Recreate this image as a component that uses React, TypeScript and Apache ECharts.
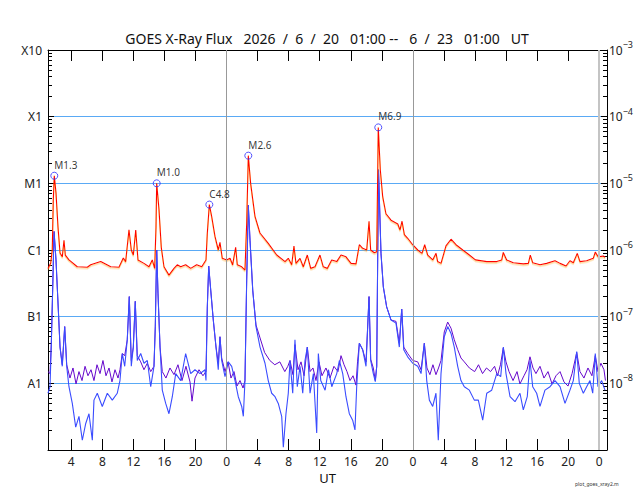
import React, { useEffect, useRef } from 'react';
import * as echarts from 'echarts';

const FONT = '"Noto Sans", "DejaVu Sans", sans-serif';

// time axis: hours since 2026-06-20 00:00 UT; flux in W/m^2
const longFlux: [number, number][] = [
    [1.0, 5.3e-7], [1.35, 6.4e-7], [1.55, 1.0e-6], [1.68, 5.6e-6], [1.81, 1.3e-5], [2.03, 7.2e-6],
    [2.29, 2.2e-6], [2.55, 9.0e-7], [2.84, 7.9e-7], [3.06, 1.4e-6], [3.23, 8.4e-7], [3.7, 7.1e-7],
    [4.77, 5.6e-7], [6.06, 5.5e-7], [6.5, 6.0e-7], [7.79, 6.7e-7], [9.08, 5.6e-7], [10.14, 5.5e-7],
    [10.7, 7.6e-7], [11.0, 6.7e-7], [11.43, 2.0e-6], [11.73, 1.0e-6], [11.99, 8.4e-7], [12.3, 2.0e-6],
    [12.59, 7.1e-7], [13.36, 6.3e-7], [14.01, 5.6e-7], [14.43, 7.1e-7], [14.74, 5.3e-7], [14.91, 2.2e-6],
    [15.0, 1.0e-5], [15.3, 4.0e-6], [15.59, 1.1e-6], [15.94, 5.6e-7], [16.58, 4.2e-7], [17.23, 5.3e-7],
    [17.65, 6.0e-7], [18.09, 5.6e-7], [18.73, 6.0e-7], [19.38, 5.3e-7], [20.15, 6.0e-7], [20.8, 5.6e-7],
    [21.35, 7.1e-7], [21.52, 1.8e-6], [21.78, 4.8e-6], [22.08, 3.2e-6], [22.51, 1.6e-6], [22.93, 1.0e-6],
    [23.15, 1.3e-6], [23.45, 7.5e-7], [24.01, 7.1e-7], [24.44, 7.5e-7], [24.78, 6.0e-7], [25.17, 1.1e-6],
    [25.38, 6.0e-7], [25.95, 5.6e-7], [26.37, 5.0e-7], [26.59, 2.5e-6], [26.8, 2.6e-5], [27.1, 1.0e-5],
    [27.66, 3.2e-6], [28.3, 1.8e-6], [29.37, 1.26e-6], [30.46, 8.4e-7], [31.53, 6.7e-7], [31.95, 7.5e-7],
    [32.39, 6.0e-7], [32.68, 1.15e-6], [32.94, 6.3e-7], [33.46, 7.5e-7], [33.88, 5.6e-7], [34.4, 8.4e-7],
    [34.84, 5.3e-7], [35.39, 5.6e-7], [36.03, 8.4e-7], [36.46, 5.6e-7], [36.97, 5.3e-7], [37.54, 7.1e-7],
    [38.19, 6.7e-7], [38.74, 8.4e-7], [39.38, 7.9e-7], [40.03, 6.3e-7], [40.67, 6.2e-7], [41.1, 1.2e-6],
    [41.53, 1.06e-6], [42.05, 1.0e-6], [42.35, 2.7e-6], [42.56, 1.0e-6], [43.03, 9.1e-7], [43.34, 9.4e-7],
    [43.54, 6.9e-5], [43.8, 1.6e-5], [44.11, 6.3e-6], [44.53, 3.5e-6], [45.18, 2.8e-6], [46.05, 2.45e-6],
    [46.34, 2.0e-6], [46.6, 2.7e-6], [46.9, 1.7e-6], [47.33, 1.5e-6], [47.97, 1.2e-6], [48.62, 1.0e-6],
    [49.17, 8.9e-7], [49.52, 1.2e-6], [49.91, 8.4e-7], [50.55, 7.1e-7], [50.98, 8.9e-7], [51.19, 6.7e-7],
    [51.62, 6.3e-7], [52.26, 1.15e-6], [52.91, 1.45e-6], [53.55, 1.2e-6], [54.42, 1.0e-6], [55.27, 8.4e-7],
    [56.05, 7.1e-7], [57.51, 6.7e-7], [58.8, 6.7e-7], [59.44, 7.1e-7], [59.64, 9.2e-7], [60.08, 7.1e-7],
    [60.93, 6.45e-7], [62.22, 6.2e-7], [62.87, 6.3e-7], [63.12, 8.4e-7], [63.43, 6.45e-7], [64.37, 6.0e-7],
    [65.23, 6.3e-7], [66.3, 6.9e-7], [66.95, 6.3e-7], [67.72, 5.75e-7], [68.23, 6.9e-7], [68.66, 6.45e-7],
    [69.17, 8.9e-7], [69.52, 6.7e-7], [70.38, 6.9e-7], [71.23, 7.5e-7], [71.49, 9.3e-7], [71.86, 7.9e-7],
    [72.51, 8.1e-7], [72.76, 7.8e-7],
];

const shortFlux: [number, number][] = [
    [1.0, 7.1e-9], [1.26, 8.9e-9], [1.43, 4.0e-8], [1.61, 2.8e-7], [1.78, 1.9e-6], [2.03, 7.1e-7],
    [2.29, 1.6e-7], [2.55, 3.5e-8], [2.84, 1.8e-8], [3.15, 7.1e-8], [3.41, 1.8e-8], [3.7, 8.9e-9],
    [4.13, 5.0e-9], [4.57, 2.2e-9], [4.99, 3.2e-9], [5.42, 1.4e-9], [5.86, 2.5e-9], [6.28, 3.5e-9],
    [6.71, 1.4e-9], [6.92, 5.6e-9], [7.35, 7.1e-9], [7.99, 4.5e-9], [8.64, 7.1e-9], [9.28, 5.6e-9],
    [9.92, 7.1e-9], [10.27, 1.1e-8], [10.57, 2.8e-8], [10.88, 1.8e-8], [11.21, 4.5e-8], [11.47, 2.0e-7],
    [11.73, 1.8e-8], [11.99, 3.5e-8], [12.24, 1.7e-7], [12.5, 2.2e-8], [12.94, 2.8e-8], [13.36, 2.0e-8],
    [13.79, 2.2e-8], [14.23, 8.9e-9], [14.65, 1.8e-8], [14.82, 7.1e-8], [15.0, 1.0e-6], [15.17, 2.2e-7],
    [15.43, 3.5e-8], [15.72, 7.9e-9], [16.16, 5.0e-9], [16.58, 3.5e-9], [17.01, 6.3e-9], [17.45, 1.4e-8],
    [18.09, 1.1e-8], [18.73, 2.8e-8], [19.38, 1.4e-8], [19.93, 1.6e-8], [20.58, 1.4e-8], [21.22, 1.6e-8],
    [21.35, 1.1e-8], [21.52, 1.4e-7], [21.7, 5.75e-7], [21.96, 2.5e-7], [22.29, 8.9e-8], [22.64, 3.5e-8],
    [22.93, 1.6e-8], [23.15, 5.0e-8], [23.37, 2.2e-8], [23.8, 1.26e-8], [24.22, 2.1e-8], [24.66, 1.8e-8],
    [25.09, 1.1e-8], [25.51, 6.3e-9], [25.95, 4.5e-9], [26.16, 3.2e-9], [26.37, 1.1e-8], [26.59, 3.5e-7],
    [26.8, 4.7e-6], [27.02, 1.4e-6], [27.37, 2.5e-7], [27.79, 7.1e-8], [28.31, 3.5e-8], [28.95, 2.0e-8],
    [29.37, 1.1e-8], [29.81, 7.1e-9], [30.24, 6.3e-9], [30.66, 5.0e-9], [31.1, 3.2e-9], [31.31, 1.1e-9],
    [31.65, 3.5e-9], [31.95, 7.1e-9], [32.17, 2.2e-8], [32.52, 7.1e-9], [32.81, 4.5e-8], [33.11, 8.9e-9],
    [33.46, 1.8e-8], [33.81, 7.1e-9], [34.1, 2.2e-8], [34.4, 3.5e-8], [34.75, 7.1e-9], [35.18, 1.4e-8],
    [35.61, 1.8e-9], [35.82, 2.8e-8], [36.13, 1.1e-8], [36.69, 7.9e-9], [37.12, 1.6e-8], [37.55, 8.9e-9],
    [38.19, 1.4e-8], [38.53, 2.2e-8], [38.96, 1.4e-8], [39.38, 6.3e-9], [39.81, 3.5e-9], [40.24, 2.8e-9],
    [40.54, 2.0e-9], [40.76, 8.9e-9], [41.1, 4.0e-8], [41.53, 3.2e-8], [41.96, 1.8e-8], [42.35, 2.0e-7],
    [42.56, 2.2e-8], [42.9, 1.4e-8], [43.16, 1.06e-8], [43.34, 1.8e-8], [43.47, 8.9e-7], [43.57, 1.6e-5],
    [43.89, 8.9e-7], [44.19, 2.8e-7], [44.62, 1.4e-7], [45.18, 8.9e-8], [45.82, 8.0e-8], [46.25, 3.5e-8],
    [46.56, 1.3e-7], [46.82, 3.2e-8], [47.33, 2.5e-8], [47.98, 2.0e-8], [48.62, 1.8e-8], [49.05, 1.4e-8],
    [49.47, 4.0e-8], [49.78, 1.1e-8], [50.12, 5.6e-9], [50.55, 4.5e-9], [50.97, 7.1e-9], [51.27, 1.4e-9],
    [51.62, 1.4e-8], [52.04, 5.0e-8], [52.48, 7.1e-8], [52.91, 5.6e-8], [53.33, 3.5e-8], [53.77, 1.8e-8],
    [54.19, 1.1e-8], [54.62, 8.9e-9], [55.27, 7.9e-9], [55.91, 5.6e-9], [56.43, 5.6e-9], [56.99, 2.8e-9],
    [57.51, 7.1e-9], [58.15, 7.9e-9], [58.8, 1.4e-8], [59.31, 1.26e-8], [59.65, 3.5e-8], [59.99, 1.4e-8],
    [60.51, 6.3e-9], [61.15, 5.3e-9], [61.79, 7.1e-9], [62.22, 4.0e-9], [62.73, 6.3e-9], [63.08, 2.2e-8],
    [63.43, 8.9e-9], [63.94, 7.1e-9], [64.37, 4.5e-9], [65.01, 7.9e-9], [65.66, 8.9e-9], [66.3, 1.1e-8],
    [66.95, 8.9e-9], [67.59, 5.0e-9], [68.23, 7.9e-9], [68.66, 1.1e-8], [69.1, 3.0e-8], [69.43, 1.0e-8],
    [69.95, 7.1e-9], [70.38, 8.9e-9], [70.81, 1.1e-8], [71.16, 7.1e-9], [71.49, 2.8e-8], [71.84, 8.9e-9],
    [72.31, 1.1e-8], [72.74, 7.9e-9],
];

const shortFluxSecondary: [number, number][] = [
    [1.0, 1.5e-8], [1.26, 1.4e-8], [1.43, 4.0e-8], [1.61, 2.8e-7], [1.78, 1.9e-6], [2.03, 7.1e-7],
    [2.29, 1.6e-7], [2.55, 3.5e-8], [2.84, 1.9e-8], [3.15, 7.1e-8], [3.41, 1.9e-8], [3.83, 1.2e-8],
    [4.22, 1.7e-8], [4.61, 9.8e-9], [4.99, 1.5e-8], [5.38, 1.1e-8], [5.77, 1.8e-8], [6.15, 1.3e-8],
    [6.54, 1.6e-8], [6.92, 1.1e-8], [7.31, 1.9e-8], [7.7, 1.4e-8], [8.08, 2.2e-8], [8.47, 1.3e-8],
    [8.86, 1.7e-8], [9.24, 1.05e-8], [9.63, 1.6e-8], [10.02, 1.2e-8], [10.27, 1.6e-8], [10.57, 2.8e-8],
    [10.88, 2.6e-8], [11.21, 4.5e-8], [11.47, 2.0e-7], [11.73, 2.2e-8], [11.99, 3.5e-8], [12.24, 1.7e-7],
    [12.5, 2.6e-8], [12.94, 2.1e-8], [13.36, 1.6e-8], [13.79, 2.0e-8], [14.23, 1.5e-8], [14.65, 1.8e-8],
    [14.82, 7.1e-8], [15.0, 1.0e-6], [15.17, 2.2e-7], [15.43, 3.5e-8], [15.72, 1.5e-8], [16.19, 1.2e-8],
    [16.71, 1.7e-8], [17.23, 1.35e-8], [17.74, 1.9e-8], [18.26, 1.1e-8], [18.77, 1.8e-8], [19.29, 1.05e-8],
    [19.55, 5.4e-9], [19.93, 1.2e-8], [20.45, 1.6e-8], [20.96, 1.3e-8], [21.35, 1.5e-8], [21.52, 1.4e-7],
    [21.7, 5.75e-7], [21.96, 2.5e-7], [22.29, 8.9e-8], [22.64, 3.5e-8], [22.93, 2.0e-8], [23.15, 5.0e-8],
    [23.37, 2.4e-8], [23.8, 1.5e-8], [24.19, 2.1e-8], [24.57, 1.2e-8], [24.96, 1.5e-8], [25.34, 9.1e-9],
    [25.73, 1.1e-8], [26.12, 8.5e-9], [26.37, 1.1e-8], [26.59, 3.5e-7], [26.8, 4.7e-6], [27.02, 1.4e-6],
    [27.37, 2.5e-7], [27.79, 7.5e-8], [28.31, 4.8e-8], [28.9, 2.9e-8], [29.57, 2.2e-8], [30.21, 1.9e-8],
    [30.86, 2.1e-8], [31.5, 1.5e-8], [31.89, 1.8e-8], [32.17, 2.2e-8], [32.55, 1.35e-8], [32.81, 3.8e-8],
    [33.2, 1.6e-8], [33.59, 2.1e-8], [33.98, 1.3e-8], [34.4, 3.5e-8], [34.75, 1.5e-8], [35.13, 1.7e-8],
    [35.52, 1.1e-8], [35.9, 2.1e-8], [36.29, 1.3e-8], [36.8, 1.7e-8], [37.32, 1.2e-8], [37.83, 1.8e-8],
    [38.35, 1.5e-8], [38.74, 2.6e-8], [39.13, 1.9e-8], [39.51, 1.5e-8], [39.9, 1.1e-8], [40.29, 1.3e-8],
    [40.67, 9.4e-9], [40.87, 2.1e-8], [41.1, 4.0e-8], [41.53, 3.2e-8], [41.96, 2.1e-8], [42.35, 2.0e-7],
    [42.56, 2.3e-8], [42.9, 1.7e-8], [43.16, 1.1e-8], [43.34, 1.8e-8], [43.47, 8.9e-7], [43.57, 1.6e-5],
    [43.89, 8.9e-7], [44.19, 2.8e-7], [44.62, 1.4e-7], [45.18, 8.9e-8], [45.82, 8.5e-8], [46.25, 4.0e-8],
    [46.56, 1.3e-7], [46.82, 3.5e-8], [47.33, 2.8e-8], [47.98, 2.2e-8], [48.62, 2.1e-8], [49.05, 1.6e-8],
    [49.47, 4.0e-8], [49.81, 1.7e-8], [50.19, 1.35e-8], [50.58, 1.9e-8], [50.97, 1.35e-8], [51.3, 1.7e-8],
    [51.62, 2.2e-8], [52.04, 5.9e-8], [52.48, 8.3e-8], [52.91, 6.7e-8], [53.33, 4.5e-8], [53.77, 3.2e-8],
    [54.19, 2.4e-8], [54.62, 2.1e-8], [55.27, 1.7e-8], [55.95, 1.5e-8], [56.45, 1.9e-8], [56.97, 1.4e-8],
    [57.48, 1.7e-8], [58.0, 1.5e-8], [58.52, 1.8e-8], [58.9, 1.3e-8], [59.28, 1.9e-8], [59.64, 3.4e-8],
    [59.99, 2.1e-8], [60.38, 1.5e-8], [60.9, 1.1e-8], [61.41, 1.5e-8], [61.79, 9.8e-9], [62.31, 1.3e-8],
    [62.7, 1.6e-8], [63.08, 2.5e-8], [63.47, 1.7e-8], [63.85, 1.4e-8], [64.37, 1.8e-8], [64.88, 1.2e-8],
    [65.4, 1.5e-8], [65.92, 9.8e-9], [66.43, 1.3e-8], [66.95, 1.5e-8], [67.46, 1.05e-8], [67.98, 9.1e-9],
    [68.5, 1.4e-8], [69.1, 2.9e-8], [69.52, 1.5e-8], [70.03, 1.2e-8], [70.55, 1.7e-8], [71.06, 1.3e-8],
    [71.49, 2.6e-8], [71.84, 1.5e-8], [72.22, 2.0e-8], [72.61, 1.6e-8], [72.8, 1.1e-8],
];

const flarePeaks: [number, number][] = [
    [1.81, 1.3e-5], [15.0, 1.0e-5], [21.78, 4.8e-6], [26.8, 2.6e-5], [43.54, 6.9e-5],
];
const flareLabels = ['M1.3', 'M1.0', 'C4.8', 'M2.6', 'M6.9'];

const hourTicks = [4, 8, 12, 16, 20, 24, 28, 32, 36, 40, 44, 48, 52, 56, 60, 64, 68, 72];
const dayBoundaries = [24, 48];
const currentDay = 72;
const classLabels = ['', 'A1', 'B1', 'C1', 'M1', 'X1', 'X10'];

const TITLE = 'GOES X-Ray Flux   2026  /  6  /  20   01:00 --   6  /  23   01:00   UT';

const GoesChart: React.FC = () => {
    const chartRef = useRef<HTMLDivElement>(null);

    const makeOptions = () => {
        const xTicks = {
            customValues: hourTicks,
            inside: true,
            length: 11,
            lineStyle: { color: '#000' },
        };
        const yCommon = {
            type: 'log',
            min: 1e-9,
            max: 1e-3,
            axisLine: { show: true, lineStyle: { color: '#000' } },
            axisTick: { inside: true, length: 6, lineStyle: { color: '#000' } },
            minorTick: { show: true, splitNumber: 9, length: 4, lineStyle: { color: '#000' } },
        };
        const options: any = {
            animation: false,
            backgroundColor: '#fff',
            textStyle: { fontFamily: FONT },
            title: {
                text: TITLE,
                left: 327,
                top: 31,
                padding: 0,
                textAlign: 'center',
                textStyle: { fontSize: 14, fontWeight: 'normal', color: '#111', fontFamily: FONT },
            },
            grid: { left: 48, right: 33, top: 50, bottom: 50 },
            xAxis: [
                {
                    type: 'value',
                    min: 1,
                    max: 73,
                    position: 'bottom',
                    axisLine: { lineStyle: { color: '#000' } },
                    axisTick: xTicks,
                    axisLabel: {
                        customValues: hourTicks,
                        formatter: (v: number) => String(v % 24),
                        fontSize: 12,
                        margin: 5,
                        color: '#222',
                        fontFamily: FONT,
                    },
                    splitLine: { show: false },
                    name: 'UT',
                    nameLocation: 'middle',
                    nameGap: 21,
                    nameTextStyle: { fontSize: 13, color: '#111', fontFamily: FONT },
                },
                {
                    type: 'value',
                    min: 1,
                    max: 73,
                    position: 'top',
                    axisLine: { lineStyle: { color: '#000' } },
                    axisTick: xTicks,
                    axisLabel: { show: false },
                    splitLine: { show: false },
                },
            ],
            yAxis: [
                {
                    ...yCommon,
                    position: 'left',
                    splitLine: {
                        show: true,
                        showMinLine: false,
                        showMaxLine: false,
                        lineStyle: { color: '#5aaaf5', width: 1 },
                    },
                    axisLabel: {
                        formatter: (v: number) => classLabels[Math.round(Math.log10(v)) + 9] || '',
                        fontSize: 12,
                        margin: 6,
                        color: '#222',
                        fontFamily: FONT,
                    },
                },
                {
                    ...yCommon,
                    position: 'right',
                    splitLine: { show: false },
                    axisLabel: {
                        formatter: (v: number) => {
                            const e = Math.round(Math.log10(v));
                            return e <= -9 ? '' : `{b|10}{e|\u2212${-e}}`;
                        },
                        margin: 2,
                        rich: {
                            b: { fontSize: 12, lineHeight: 20, color: '#222', fontFamily: FONT },
                            e: { fontSize: 9, lineHeight: 10, verticalAlign: 'top', color: '#222', fontFamily: FONT },
                        },
                    },
                },
            ],
            graphic: [
                {
                    type: 'text',
                    left: 575,
                    top: 481,
                    style: { text: 'plot_goes_xray2.m', fontSize: 5, fill: '#333', fontFamily: FONT },
                },
            ],
            series: [
                {
                    name: 'Short secondary',
                    type: 'line',
                    data: shortFluxSecondary,
                    showSymbol: false,
                    lineStyle: { color: '#6608cc', width: 1 },
                    z: 2,
                    markLine: {
                        silent: true,
                        symbol: 'none',
                        label: { show: false },
                        data: [
                            ...dayBoundaries.map(d => ({ xAxis: d, lineStyle: { color: '#999', width: 1, type: 'solid' } })),
                            { xAxis: currentDay, lineStyle: { color: '#c4c4c4', width: 2, type: 'solid' } },
                        ],
                    },
                },
                {
                    name: 'Short 0.05-0.4 nm',
                    type: 'line',
                    data: shortFlux,
                    showSymbol: false,
                    lineStyle: { color: '#3a4cff', width: 1.1 },
                    z: 3,
                },
                {
                    name: 'Long 0.1-0.8 nm',
                    type: 'line',
                    data: longFlux,
                    showSymbol: false,
                    lineStyle: {
                        color: '#ff0000',
                        width: 1.1,
                        shadowColor: 'rgba(255,150,0,0.5)',
                        shadowOffsetY: 1.4,
                        shadowBlur: 0,
                    },
                    z: 4,
                },
                {
                    name: 'Flares',
                    type: 'scatter',
                    data: flarePeaks,
                    symbol: 'circle',
                    symbolSize: 7,
                    itemStyle: { color: 'rgba(0,0,0,0)', borderColor: '#2a2aff', borderWidth: 1 },
                    label: {
                        show: true,
                        position: 'top',
                        align: 'left',
                        distance: 2,
                        fontSize: 10,
                        color: '#000',
                        fontFamily: FONT,
                        formatter: (p: any) => flareLabels[p.dataIndex],
                    },
                    z: 5,
                },
            ],
        };
        return options;
    };

    useEffect(() => {
        const chart = echarts.init(chartRef.current!, null, { renderer: 'svg' });
        chart.setOption(makeOptions());
        return () => {
            chart.dispose();
        };
    }, []);

    return (
        <div
            ref={chartRef}
            style={{ position: 'absolute', left: 0, top: 0, width: 640, height: 500, background: '#fff' }}
        />
    );
};

export default function App() {
    return <GoesChart />;
}
